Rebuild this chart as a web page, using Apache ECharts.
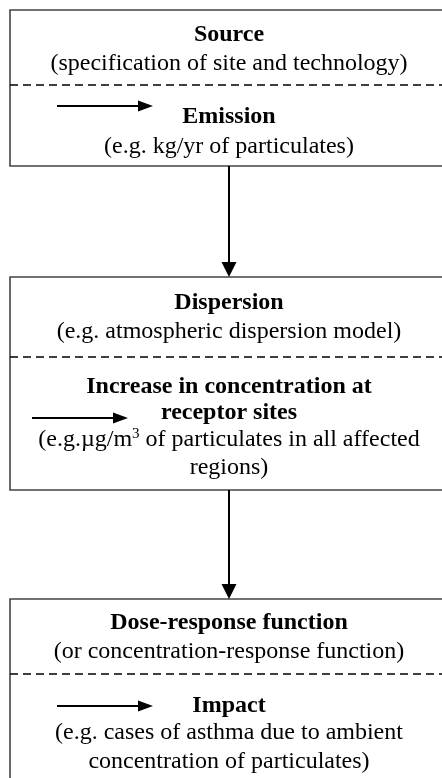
<!DOCTYPE html>
<html>
<head>
<meta charset="utf-8">
<script src="https://cdn.jsdelivr.net/npm/echarts@6/dist/echarts.min.js"></script>
<style>
  html, body { margin: 0; padding: 0; background: #fff; }
  #chart { width: 442px; height: 778px; }
</style>
</head>
<body>
<div id="chart"></div>
<script>
// boxes: top edge, dashed divider, bottom edge
const boxTops = [10, 277, 599]
const boxDividers = [85, 357, 674]
const boxBottoms = [166, 490, 800]

// text lines inside each box: [text, y, bold]
const boxLines = [
    [
        ['Source', 35, true],
        ['(specification of site and technology)', 64, false],
        ['Emission', 117, true],
        ['(e.g. kg/yr of particulates)', 147, false]
    ],
    [
        ['Dispersion', 303, true],
        ['(e.g. atmospheric dispersion model)', 332, false],
        ['Increase in concentration at', 387, true],
        ['receptor sites', 413, true],
        ['(e.g.µg/m{sup|3} of particulates in all affected', 440, false],
        ['regions)', 468, false]
    ],
    [
        ['Dose-response function', 623, true],
        ['(or concentration-response function)', 652, false],
        ['Impact', 706, true],
        ['(e.g. cases of asthma due to ambient', 733, false],
        ['concentration of particulates)', 762, false]
    ]
]

// small side arrows: [x1, x2, y]
const sideArrows = [[57, 153, 106], [32, 128, 418], [57, 153, 706]]

const left = 10
const right = 460
const midX = 229
const font = '"Liberation Serif", "Times New Roman", serif'

const elements = []

boxTops.forEach((top, i) => {
    elements.push({
        type: 'rect',
        shape: { x: left, y: top, width: right - left, height: boxBottoms[i] - top },
        style: { fill: '#fff', stroke: '#444', lineWidth: 1.6 }
    })
    elements.push({
        type: 'line',
        shape: { x1: left, y1: boxDividers[i], x2: 442, y2: boxDividers[i] },
        style: { stroke: '#000', lineWidth: 1.6, lineDash: [8, 5] }
    })
    boxLines[i].forEach(line => {
        elements.push({
            type: 'text',
            x: midX,
            y: line[1],
            style: {
                text: line[0],
                fill: '#000',
                font: (line[2] ? 'bold ' : '') + '24px ' + font,
                align: 'center',
                verticalAlign: 'middle',
                rich: {
                    sup: { fontSize: 15, fontFamily: font, fill: '#000', verticalAlign: 'top', padding: [0, 0, 12, 0] }
                }
            }
        })
    })
})

// main connecting arrows
for (let i = 0; i < boxTops.length - 1; i++) {
    const y1 = boxBottoms[i]
    const y2 = boxTops[i + 1]
    elements.push({
        type: 'line',
        shape: { x1: midX, y1: y1, x2: midX, y2: y2 - 12 },
        style: { stroke: '#000', lineWidth: 2 }
    })
    elements.push({
        type: 'polygon',
        shape: { points: [[midX - 7.5, y2 - 15], [midX + 7.5, y2 - 15], [midX, y2]] },
        style: { fill: '#000' }
    })
}

sideArrows.forEach(a => {
    elements.push({
        type: 'line',
        shape: { x1: a[0], y1: a[2], x2: a[1] - 12, y2: a[2] },
        style: { stroke: '#000', lineWidth: 2 }
    })
    elements.push({
        type: 'polygon',
        shape: { points: [[a[1] - 15, a[2] - 5.5], [a[1], a[2]], [a[1] - 15, a[2] + 5.5]] },
        style: { fill: '#000' }
    })
})

const myChart = echarts.init(document.getElementById('chart'))
myChart.setOption({
    animation: false,
    graphic: { elements: elements }
})
window.addEventListener('resize', () => { myChart.resize() })
</script>
</body>
</html>
